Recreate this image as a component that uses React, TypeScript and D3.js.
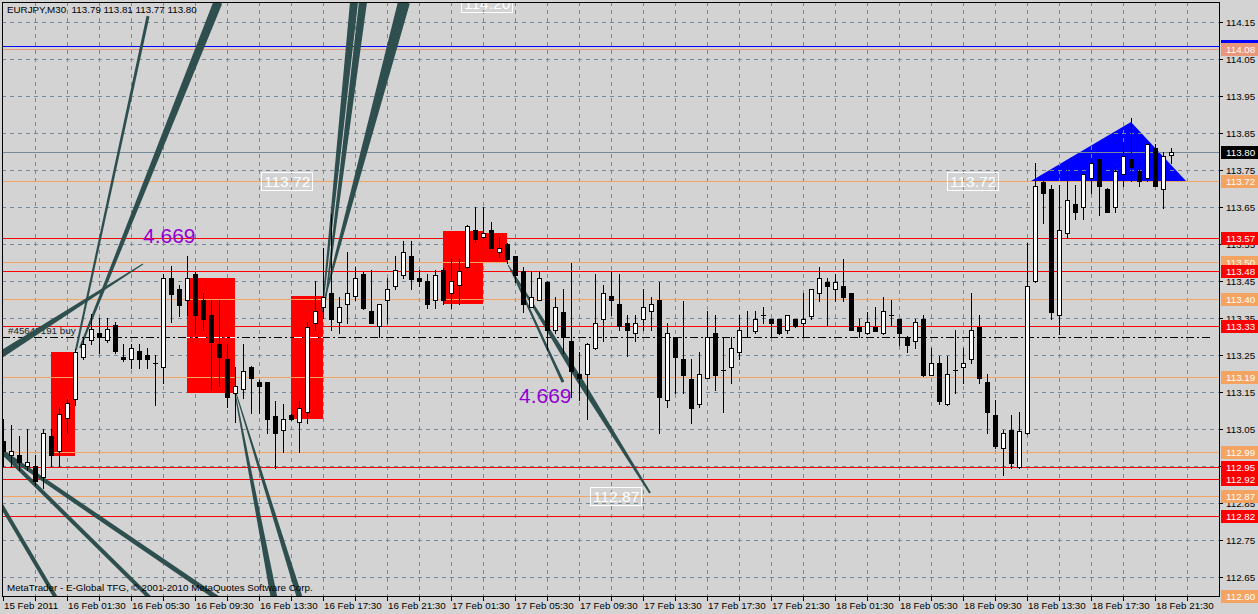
import React, { useEffect } from "react";
import * as d3 from "d3";

// ---- candle data (EURJPY M30), bar 0 = 15 Feb 21:30 ----
const opens = [113.018,112.98,112.98,112.95,112.95,112.92,113.03,112.99,113.08,113.13,113.245,113.29,113.31,113.29,113.33,113.245,113.24,113.26,113.25,113.228,113.217,113.457,113.428,113.398,113.468,113.399,113.358,113.279,113.238,113.147,113.158,113.218,113.176,113.176,113.086,113.047,113.088,113.068,113.097,113.337,113.379,113.417,113.338,113.387,113.409,113.469,113.369,113.328,113.399,113.437,113.467,113.518,113.457,113.449,113.398,113.48,113.417,113.438,113.487,113.588,113.568,113.588,113.528,113.549,113.518,113.478,113.381,113.399,113.448,113.318,113.367,113.289,113.199,113.199,113.268,113.347,113.409,113.388,113.337,113.309,113.347,113.369,113.399,113.128,113.298,113.239,113.185,113.117,113.187,113.309,113.21,113.217,113.257,113.30,113.316,113.357,113.346,113.346,113.318,113.346,113.337,113.356,113.417,113.448,113.428,113.437,113.417,113.326,113.309,113.326,113.309,113.357,113.346,113.298,113.287,113.346,113.197,113.228,113.117,113.21,113.217,113.238,113.326,113.177,113.088,112.998,113.047,112.946,113.038,113.45,113.718,113.698,113.357,113.579,113.658,113.649,113.728,113.779,113.699,113.649,113.738,113.779,113.748,113.728,113.809,113.698,113.79];
const highs = [113.077,113.06,113.03,113.05,112.98,113.05,113.05,113.11,113.13,113.265,113.30,113.36,113.35,113.35,113.34,113.28,113.28,113.28,113.27,113.25,113.468,113.49,113.44,113.518,113.474,113.418,113.399,113.399,113.28,113.218,113.28,113.22,113.182,113.177,113.127,113.117,113.09,113.127,113.339,113.45,113.539,113.63,113.407,113.529,113.489,113.475,113.48,113.388,113.457,113.518,113.558,113.558,113.48,113.468,113.48,113.485,113.509,113.509,113.601,113.649,113.649,113.61,113.568,113.553,113.518,113.489,113.478,113.478,113.45,113.408,113.428,113.498,113.259,113.282,113.469,113.439,113.478,113.469,113.358,113.358,113.428,113.408,113.448,113.337,113.299,113.397,113.239,113.257,113.369,113.358,113.298,113.298,113.358,113.369,113.369,113.379,113.347,113.347,113.358,113.347,113.418,113.428,113.489,113.457,113.469,113.509,113.418,113.346,113.367,113.379,113.408,113.399,113.347,113.301,113.346,113.357,113.268,113.247,113.247,113.318,113.268,113.418,113.358,113.199,113.128,113.047,113.088,113.097,113.552,113.77,113.723,113.709,113.709,113.768,113.709,113.745,113.777,113.785,113.701,113.757,113.819,113.89,113.768,113.823,113.819,113.799,113.81];
const lows = [112.95,112.95,112.94,112.94,112.90,112.89,112.95,112.95,113.04,113.115,113.24,113.28,113.255,113.285,113.255,113.235,113.215,113.215,113.215,113.115,113.175,113.34,113.355,113.358,113.31,113.318,113.157,113.167,113.11,113.07,113.134,113.094,113.094,113.038,112.944,112.989,113.074,112.989,113.067,113.318,113.35,113.318,113.309,113.337,113.399,113.374,113.337,113.298,113.336,113.428,113.457,113.428,113.436,113.378,113.378,113.387,113.378,113.387,113.485,113.556,113.566,113.538,113.516,113.498,113.448,113.367,113.38,113.399,113.264,113.309,113.255,113.137,113.128,113.076,113.266,113.289,113.358,113.318,113.248,113.289,113.318,113.318,113.038,113.109,113.146,113.146,113.067,113.109,113.187,113.155,113.097,113.175,113.238,113.299,113.309,113.337,113.298,113.307,113.309,113.326,113.298,113.346,113.397,113.328,113.397,113.397,113.318,113.298,113.307,113.315,113.307,113.328,113.277,113.257,113.268,113.193,113.196,113.118,113.115,113.146,113.175,113.228,113.175,113.038,112.998,112.926,112.944,112.945,113.036,113.447,113.608,113.346,113.307,113.567,113.618,113.618,113.687,113.628,113.636,113.637,113.708,113.72,113.708,113.72,113.707,113.648,113.77];
const closes = [112.99,112.99,112.96,112.96,112.91,113.04,112.98,113.09,113.12,113.258,113.28,113.32,113.30,113.32,113.26,113.24,113.27,113.24,113.24,113.228,113.457,113.415,113.386,113.457,113.358,113.347,113.286,113.245,113.137,113.167,113.208,113.189,113.167,113.076,113.038,113.076,113.076,113.108,113.326,113.368,113.408,113.346,113.379,113.417,113.457,113.378,113.337,113.387,113.428,113.479,113.528,113.456,113.449,113.387,113.467,113.398,113.449,113.478,113.599,113.563,113.579,113.538,113.538,113.509,113.466,113.388,113.408,113.457,113.318,113.379,113.298,113.208,113.187,113.279,113.337,113.417,113.399,113.328,113.318,113.337,113.379,113.388,113.137,113.309,113.245,113.196,113.108,113.198,113.298,113.196,113.21,113.268,113.318,113.30,113.346,113.357,113.337,113.309,113.357,113.328,113.346,113.428,113.457,113.437,113.448,113.408,113.318,113.316,113.338,113.316,113.368,113.357,113.309,113.278,113.338,113.197,113.228,113.127,113.198,113.21,113.228,113.318,113.187,113.097,113.005,113.038,112.957,113.045,113.437,113.708,113.687,113.367,113.588,113.669,113.637,113.738,113.768,113.708,113.637,113.748,113.789,113.757,113.72,113.819,113.708,113.789,113.80];

// ---- axes ----
const timeLabels = ["15 Feb 2011","16 Feb 01:30","16 Feb 05:30","16 Feb 09:30","16 Feb 13:30","16 Feb 17:30","16 Feb 21:30","17 Feb 01:30","17 Feb 05:30","17 Feb 09:30","17 Feb 13:30","17 Feb 17:30","17 Feb 21:30","18 Feb 01:30","18 Feb 05:30","18 Feb 09:30","18 Feb 13:30","18 Feb 17:30","18 Feb 21:30"];
const timeLabelBars = [0,8,16,24,32,40,48,56,64,72,80,88,96,104,112,120,128,136,144];
const gridBars = [4,8,12,16,20,24,28,32,36,40,44,48,52,56,60,64,68,72,76,80,84,88,92,96,100,104,108,112,116,120,124,128,132,136,140,144,148];
const priceTicks = [112.65,112.75,112.85,112.95,113.05,113.15,113.25,113.35,113.45,113.55,113.65,113.75,113.85,113.95,114.05,114.15];
const priceTickLabels = ["112.65","112.75","112.85","112.95","113.05","113.15","113.25","113.35","113.45","113.55","113.65","113.75","113.85","113.95","114.05","114.15"];

// ---- horizontal levels ----
const blueLevels = [114.085];
const blueLabels = ["114.09"];
const salmonLevels = [114.077];
const salmonLabels = ["114.08"];
const orangeLevels = [113.72,113.501,113.401,113.19,112.988,112.869,112.60];
const orangeLabels = ["113.72","113.50","113.40","113.19","112.99","112.87","112.60"];
const redLevels = [113.566,113.477,113.328,112.947,112.914,112.815];
const redLabels = ["113.57","113.48","113.33","112.95","112.92","112.82"];
const bidLevel = 113.80;
const bidLabel = "113.80";
const orderLevel = 113.30;
const orderText = "#45647191 buy";

// ---- objects ----
const rectFromBar = [6,23,36,55,60];
const rectToBar = [9,29,40,60,63];
const rectTop = [113.258,113.457,113.409,113.585,113.581];
const rectBottom = [112.978,113.147,113.077,113.389,113.499];

const triBars = [128.46,140.96,147.84];
const triPrices = [113.72,113.88,113.72];

const fanFromBar = [18.09,26.84,-0.41,39.84,40.21,39.96,63.09,63.34,63.59,-0.41,-0.41,-0.41,28.96,29.09];
const fanFromPrice = [114.166,114.204,113.25,113.366,113.385,113.385,113.493,113.485,113.48,112.85,112.993,112.993,113.147,113.147];
const fanToBar = [9.09,9.59,17.46,43.84,44.96,50.09,80.84,69.96,68.09,7.34,18.59,27.09,34.09,37.46];
const fanToPrice = [113.264,113.269,113.496,114.204,114.204,114.204,112.877,113.177,113.264,112.566,112.588,112.588,112.566,112.566];
const fanWidths = [[3,2],[9,2],[7,1],[1,8],[1,8],[1,12],[1,6,2],[1,3],[1,2],[4,4],[4,4],[4,5],[1,7],[1,6]];

const ratioTexts = ["4.669","4.669"];
const ratioBars = [17.46,64.46];
const ratioPrices = [113.553,113.12];

const boxTexts = ["113.72","114.20","112.87","113.72"];
const boxBars = [32.2,57.2,73.3,117.96];
const boxPrices = [113.745,114.226,112.893,113.745];

const headerText = "EURJPY,M30  113.79 113.81 113.77 113.80";
const footerText = "MetaTrader - E-Global TFG, \u00A9 2001-2010 MetaQuotes Software Corp.";

const FONT = "'Liberation Sans', Arial, sans-serif";
const BG = "#D3D3D3";
const GRID = "#778899";

function wedge(x1: number, y1: number, x2: number, y2: number, ws: number[]) {
  const dx = x2 - x1, dy = y2 - y1, len = Math.hypot(dx, dy);
  const nx = -dy / len, ny = dx / len;
  const left: [number, number][] = [];
  const right: [number, number][] = [];
  ws.forEach((w, i) => {
    const t = i / (ws.length - 1);
    const x = x1 + dx * t, y = y1 + dy * t;
    left.push([x + (nx * w) / 2, y + (ny * w) / 2]);
    right.push([x - (nx * w) / 2, y - (ny * w) / 2]);
  });
  return (d3.line()([...left, ...right.reverse()]) || "") + "Z";
}

export default function App() {
  useEffect(() => {
    document.body.style.margin = "0";
  }, []);
  const W = 1258, H = 614;
  const L = 2, R = 1220, T = 2, B = 596;
  const xs = d3.scaleLinear().domain([0, 1]).range([3.3, 11.3]);
  const ys = d3.scaleLinear().domain([112.65, 114.15]).range([577, 22]);
  const hy = (p: number) => Math.round(ys(p)) + 0.5;
  const vx = (b: number) => Math.round(xs(b)) + 0.5;

  const levelLine = (p: number, color: string, key: string) => (
    <line key={key} x1={L} x2={R} y1={hy(p)} y2={hy(p)} stroke={color} strokeWidth={1} />
  );
  const priceBox = (p: number, label: string, fill: string, key: string, textFill = "#fff") => (
    <g key={key}>
      <rect x={1221} y={Math.round(ys(p)) - 6} width={37} height={13} fill={fill} />
      <text x={1226} y={Math.round(ys(p)) + 4} fontSize={9.8} fill={textFill} fontFamily={FONT}>{label}</text>
    </g>
  );

  return (
    <svg width={W} height={H} style={{ position: "absolute", left: 0, top: 0, display: "block" }}>
      <defs>
        <clipPath id="plot">
          <rect x={L} y={T} width={R - L} height={B - T} />
        </clipPath>
      </defs>
      <rect x={0} y={0} width={W} height={H} fill={BG} />
      <g clipPath="url(#plot)">
        {/* triangle */}
        <polygon
          points={triBars.map((b, i) => `${xs(b)},${ys(triPrices[i])}`).join(" ")}
          fill="#0000FF"
        />
        {/* grid */}
        {priceTicks.map((p, i) => (
          <line key={"hg" + i} x1={L} x2={R} y1={hy(p)} y2={hy(p)} stroke={GRID} strokeDasharray="4,4" />
        ))}
        {gridBars.filter((b) => xs(b) < R - 1).map((b, i) => (
          <line key={"vg" + i} x1={vx(b)} x2={vx(b)} y1={T} y2={B} stroke={GRID} strokeDasharray="4,4" />
        ))}
        {/* red rectangles */}
        {rectFromBar.map((b, i) => {
          const x0 = Math.round(xs(b)), x1 = Math.round(xs(rectToBar[i]));
          const y0 = Math.round(ys(rectTop[i])), y1 = Math.round(ys(rectBottom[i]));
          return <rect key={"rr" + i} x={x0} y={y0} width={x1 - x0} height={y1 - y0} fill="#FF0000" />;
        })}
        {/* levels */}
        {blueLevels.map((p, i) => levelLine(p, "#0000FF", "bl" + i))}
        {salmonLevels.map((p, i) => levelLine(p, "#E9967A", "sl" + i))}
        {orangeLevels.map((p, i) => levelLine(p, "#F4A460", "ol" + i))}
        {redLevels.map((p, i) => levelLine(p, "#FF0000", "rl" + i))}
        {levelLine(bidLevel, "#778899", "bid")}
        <line x1={L} x2={1212} y1={hy(orderLevel)} y2={hy(orderLevel)} stroke="#000" strokeDasharray="8,3,2,3" />
        {rectFromBar.map((b, i) => {
          const x0 = Math.round(xs(b)), x1 = Math.round(xs(rectToBar[i]));
          const y0 = ys(rectTop[i]), y1 = ys(rectBottom[i]);
          const yo = ys(orderLevel);
          if (yo < y0 || yo > y1) return null;
          return (
            <line key={"ow" + i} x1={x0} x2={x1} y1={hy(orderLevel)} y2={hy(orderLevel)} stroke="#fff" strokeDasharray="8,3,2,3" strokeDashoffset={-x0} />
          );
        })}
        <text x={8} y={Math.round(ys(orderLevel)) - 3} fontSize={9.8} fill="#222" fontFamily={FONT}>{orderText}</text>
        {/* fan lines */}
        {fanFromBar.map((b, i) => (
          <path
            key={"fan" + i}
            d={wedge(xs(b), ys(fanFromPrice[i]), xs(fanToBar[i]), ys(fanToPrice[i]), fanWidths[i])}
            fill="#2F4F4F"
          />
        ))}
        {/* candles */}
        {opens.map((o, i) => {
          const c = closes[i];
          const cx = Math.round(xs(i));
          const top = Math.round(ys(Math.max(o, c)));
          const bot = Math.round(ys(Math.min(o, c)));
          const bull = c > o;
          return (
            <g key={"c" + i}>
              <line x1={cx + 0.5} x2={cx + 0.5} y1={Math.round(ys(highs[i]))} y2={Math.round(ys(lows[i])) + 1} stroke="#000" />
              {bot - top < 1 ? (
                <line x1={cx - 2} x2={cx + 3} y1={top + 0.5} y2={top + 0.5} stroke="#000" />
              ) : (
                <rect x={cx - 1.5} y={top + 0.5} width={4} height={bot - top} fill={bull ? "#fff" : "#000"} stroke="#000" />
              )}
            </g>
          );
        })}
        {/* texts */}
        {ratioTexts.map((t, i) => (
          <text key={"rt" + i} x={xs(ratioBars[i])} y={ys(ratioPrices[i])} fontSize={21} fill="#9400D3" fontFamily={FONT}>{t}</text>
        ))}
        {boxTexts.map((t, i) => {
          const x0 = Math.round(xs(boxBars[i])), y0 = Math.round(ys(boxPrices[i]));
          return (
            <g key={"bt" + i}>
              <rect x={x0 + 0.5} y={y0 + 0.5} width={51} height={18} fill="none" stroke="#fff" />
              <text x={x0 + 3} y={y0 + 15} fontSize={15.5} fill="#fff" fontFamily={FONT}>{t}</text>
            </g>
          );
        })}
        <text x={7} y={13} fontSize={9.8} fill="#000" fontFamily={FONT} style={{ whiteSpace: "pre" }}>{headerText}</text>
        <text x={7} y={591} fontSize={9.8} fill="#000" fontFamily={FONT}>{footerText}</text>
      </g>
      {/* frame */}
      <rect x={L + 0.5} y={T + 0.5} width={R - L - 1} height={B - T} fill="none" stroke="#000" />
      {/* right axis */}
      {priceTicks.map((p, i) => (
        <g key={"pt" + i}>
          <line x1={R} x2={R + 3} y1={hy(p)} y2={hy(p)} stroke="#000" />
          <text x={1226} y={Math.round(ys(p)) + 4} fontSize={9.8} fill="#000" fontFamily={FONT}>{priceTickLabels[i]}</text>
        </g>
      ))}
      {blueLevels.map((p, i) => priceBox(p, blueLabels[i], "#0000FF", "bb" + i))}
      {salmonLevels.map((p, i) => priceBox(p, salmonLabels[i], "#E9967A", "sb" + i))}
      {orangeLevels.map((p, i) => priceBox(p, orangeLabels[i], "#F4A460", "ob" + i))}
      {redLevels.map((p, i) => priceBox(p, redLabels[i], "#FF0000", "rb" + i))}
      {priceBox(bidLevel, bidLabel, "#000000", "bidb")}
      {/* bottom axis */}
      {gridBars.concat([0]).filter((b) => xs(b) < R).map((b, i) => (
        <line key={"tt" + i} x1={vx(b)} x2={vx(b)} y1={B} y2={B + 5} stroke="#000" />
      ))}
      {timeLabels.map((t, i) => (
        <text key={"tl" + i} x={Math.round(xs(timeLabelBars[i])) + 1} y={609} fontSize={9.8} fill="#000" fontFamily={FONT}>{t}</text>
      ))}
    </svg>
  );
}
